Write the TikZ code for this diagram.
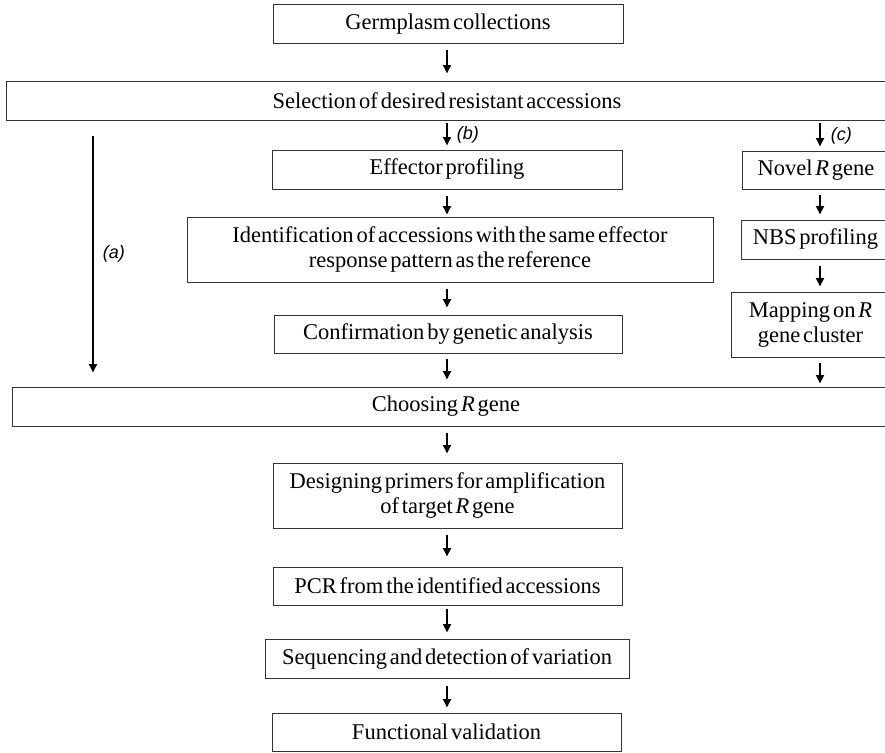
\documentclass[tikz,border=0pt]{standalone}
\usepackage{fontspec}
\setmainfont{Liberation Serif}[WordSpace=0.5]
\newfontfamily\labfont{Liberation Sans}
\usetikzlibrary{arrows.meta}
\begin{document}
\begin{tikzpicture}[x=1pt,y=-1pt,
  box/.style={draw=black!80, line width=1pt, inner sep=0pt, align=center,
    font=\fontsize{22.5}{25}\selectfont},
  arr/.style={line width=1.8pt, -{Triangle[length=8.5pt,width=8pt]}},
  lab/.style={font=\labfont\itshape\fontsize{18}{20}\selectfont, inner sep=0pt}]
\useasboundingbox (0,0) rectangle (885,752);
\coordinate (mc) at (447,0);
\coordinate (rc) at (820,0);
\coordinate (ac) at (93,0);

\node[box, minimum width=350pt, minimum height=39pt] (germ) at (448,24.5) {Germplasm collections};
\node[box, minimum width=882pt, minimum height=39pt] (sel) at (447,100.5) {Selection of desired resistant accessions};
\node[box, minimum width=350pt, minimum height=39pt] (eff) at (447,169.5) {Effector profiling};
\node[box, minimum width=148pt, minimum height=38pt] (novel) at (816,170) {Novel \textit{R} gene};
\node[box, minimum width=526pt, minimum height=65pt] (ident) at (450,249.5) {Identification of accessions with the same effector\\response pattern as the reference};
\node[box, minimum width=149pt, minimum height=39pt] (nbs) at (815.5,239.5) {NBS profiling};
\node[box, minimum width=348pt, minimum height=38pt] (conf) at (448,334) {Confirmation by genetic analysis};
\node[box, minimum width=159pt, minimum height=65pt] (map) at (810.5,324.5) {Mapping on \textit{R}\\gene cluster};
\node[box, minimum width=878pt, minimum height=39pt] (choose) at (451,406.5) {\hspace*{-10pt}Choosing \textit{R} gene};
\node[box, minimum width=349pt, minimum height=65pt] (des) at (447.5,495.5) {Designing primers for amplification\\of target \textit{R} gene};
\node[box, minimum width=349pt, minimum height=38pt] (pcr) at (447.5,586) {PCR from the identified accessions};
\node[box, minimum width=364pt, minimum height=39pt] (seq) at (447,658.5) {Sequencing and detection of variation};
\node[box, minimum width=349pt, minimum height=38pt] (func) at (446.5,732) {Functional validation};

\draw[arr, shorten <=6pt, shorten >=7pt] (germ.south -| mc) -- (sel.north -| mc);
\draw[arr, shorten <=2pt, shorten >=4pt] (sel.south -| mc) -- node[lab, right=9pt] {(b)} (eff.north -| mc);
\draw[arr, shorten <=2pt, shorten >=4pt] (sel.south -| rc) -- node[lab, right=10pt] {(c)} (novel.north -| rc);
\draw[arr, shorten <=15pt, shorten >=14pt] (sel.south -| ac) -- node[lab, right=9pt] {(a)} (choose.north -| ac);
\draw[arr, shorten <=6pt, shorten >=2pt] (eff.south -| mc) -- (ident.north -| mc);
\draw[arr, shorten <=6pt, shorten >=7pt] (ident.south -| mc) -- (conf.north -| mc);
\draw[arr, shorten <=5pt, shorten >=7pt] (conf.south -| mc) -- (choose.north -| mc);
\draw[arr, shorten <=5pt, shorten >=5pt] (novel.south -| rc) -- (nbs.north -| rc);
\draw[arr, shorten <=6pt, shorten >=5pt] (nbs.south -| rc) -- (map.north -| rc);
\draw[arr, shorten <=5pt, shorten >=3pt] (map.south -| rc) -- (choose.north -| rc);
\draw[arr, shorten <=6pt, shorten >=9pt] (choose.south -| mc) -- (des.north -| mc);
\draw[arr, shorten <=6pt, shorten >=10pt] (des.south -| mc) -- (pcr.north -| mc);
\draw[arr, shorten <=3pt, shorten >=6pt] (pcr.south -| mc) -- (seq.north -| mc);
\draw[arr, shorten <=7pt, shorten >=5pt] (seq.south -| mc) -- (func.north -| mc);
\end{tikzpicture}
\end{document}
